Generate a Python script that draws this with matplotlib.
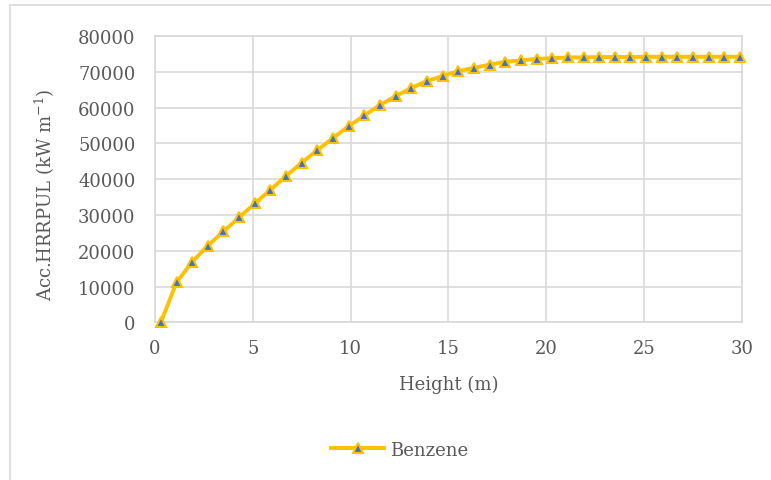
import matplotlib
matplotlib.use("Agg")
import matplotlib.pyplot as plt
from matplotlib.patches import Rectangle

# Datos
altura = [0.3, 1.1, 1.9, 2.7, 3.5, 4.3, 5.1, 5.9, 6.7, 7.5, 8.3, 9.1, 9.9,
          10.7, 11.5, 12.3, 13.1, 13.9, 14.7, 15.5, 16.3, 17.1, 17.9, 18.7,
          19.5, 20.3, 21.1, 21.9, 22.7, 23.5, 24.3, 25.1, 25.9, 26.7, 27.5,
          28.3, 29.1, 29.9]
hrrpul = [0, 11150, 16900, 21400, 25400, 29300, 33200, 37000, 40900, 44600,
          48100, 51500, 54800, 57800, 60700, 63200, 65500, 67400, 68800,
          70200, 71100, 72000, 72800, 73200, 73600, 73800, 74000, 74050,
          74100, 74150, 74150, 74200, 74200, 74200, 74200, 74200, 74200,
          74200]
xticks = [0, 5, 10, 15, 20, 25, 30]
yticks = [0, 10000, 20000, 30000, 40000, 50000, 60000, 70000, 80000]

texto = "#595959"
rejilla = "#D9D9D9"
plt.rcParams['font.family'] = ['DejaVu Serif']
plt.rcParams['mathtext.fontset'] = 'dejavuserif'

fig = plt.figure(figsize=(7.71, 4.81), dpi=100)
fig.patch.set_facecolor('white')

# borde del área del gráfico (recortado a la derecha y abajo)
fig.patches.append(Rectangle((10 / 771, -0.1), 1.2, 1 - 6 / 481 + 0.1,
                             transform=fig.transFigure, fill=False,
                             edgecolor=rejilla, linewidth=1.2))

ax = fig.add_axes([155 / 771, 1 - 323.3 / 481, 587 / 771, 286.3 / 481])
ax.plot(altura, hrrpul, color="#FFC000", linewidth=2.8, marker="^",
        markersize=7, markerfacecolor="#4472C4", markeredgecolor="#FFC000",
        markeredgewidth=1.5, label="Benzene", clip_on=False, zorder=3)

ax.set_xlim(0, 30)
ax.set_ylim(0, 80000)
ax.set_xticks(xticks)
ax.set_yticks(yticks)
ax.grid(True, color=rejilla, linewidth=1.2)
ax.set_axisbelow(True)
for s in ax.spines.values():
    s.set_color(rejilla)
    s.set_linewidth(1.2)
ax.tick_params(length=0, labelsize=13, colors=texto)
ax.tick_params(axis="x", pad=12)
ax.tick_params(axis="y", pad=14)
ax.set_xlabel("Height (m)", fontsize=13, color=texto, labelpad=13)
ax.set_ylabel("Acc.HRRPUL (kW m$^{\\mathregular{-1}}$)", fontsize=13,
              color=texto)
ax.yaxis.set_label_coords(-0.167, 0.45)

leg = ax.legend(loc="center", bbox_to_anchor=(0.417, -0.445), frameon=False,
                fontsize=13, handlelength=2.9, handletextpad=0.35)
for t in leg.get_texts():
    t.set_color(texto)

fig.savefig("out.png", dpi=100)
